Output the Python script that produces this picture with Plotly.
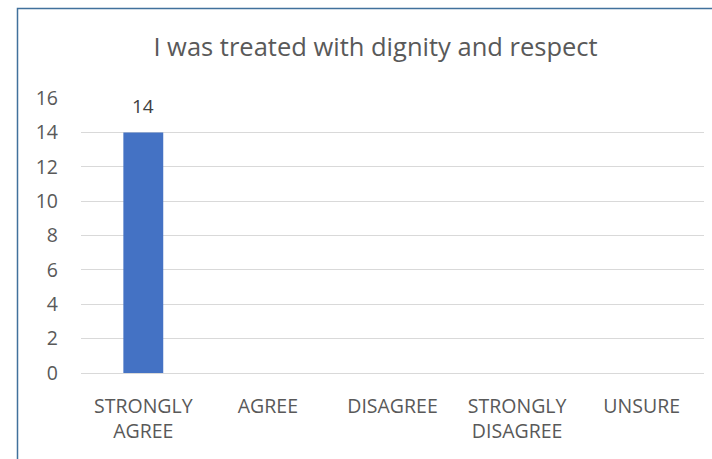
import plotly.graph_objects as go

categories = ["STRONGLY<br>AGREE", "AGREE", "DISAGREE", "STRONGLY<br>DISAGREE", "UNSURE"]
values = [14, 0, 0, 0, 0]
y_ticks = [0, 2, 4, 6, 8, 10, 12, 14, 16]
title = "I was treated with dignity and respect"

W, H = 712, 459
ml, mr, mt, mb = 81, 8, 98, 86
pw = W - ml - mr
ph = H - mt - mb

def px_x(x):
    return (x - ml) / pw

def px_y(y):
    return (H - mb - y) / ph

font = "Open Sans"
grey = "#595959"

fig = go.Figure(go.Bar(
    x=categories,
    y=values,
    marker=dict(color="#4472C4", line=dict(width=0)),
    width=0.32,
    hoverinfo="skip",
))

for c, v in zip(categories, values):
    if v:
        fig.add_annotation(x=c, y=v, text=str(v), showarrow=False, yanchor="bottom", yshift=11,
                           font=dict(family=font, size=19, color="#404040"))

fig.update_layout(
    width=W, height=H,
    margin=dict(l=ml, r=mr, t=mt, b=mb),
    paper_bgcolor="white",
    plot_bgcolor="white",
    showlegend=False,
    title=dict(text=title, xref="container", x=375.5 / W, xanchor="center",
               yref="container", y=1 - 47.5 / H, yanchor="middle",
               font=dict(family=font, size=25.5, color=grey)),
    xaxis=dict(showgrid=False, showline=False, ticks="", zeroline=False,
               tickfont=dict(family=font, size=19.5, color=grey), ticklabelstandoff=19),
    yaxis=dict(range=[0, 16], tickvals=y_ticks, showgrid=True, gridcolor="#D9D9D9", gridwidth=1,
               zeroline=True, zerolinecolor="#D9D9D9", zerolinewidth=1, showline=False,
               tickfont=dict(family=font, size=19.5, color=grey), ticklabelstandoff=22, ticks=""),
    shapes=[dict(type="path", xref="paper", yref="paper",
                 path=f"M {px_x(17.5)} {px_y(470)} L {px_x(17.5)} {px_y(8.5)} L {px_x(720)} {px_y(8.5)}",
                 line=dict(color="#41719C", width=1.5), layer="above")],
)

fig.write_html("out.html")
